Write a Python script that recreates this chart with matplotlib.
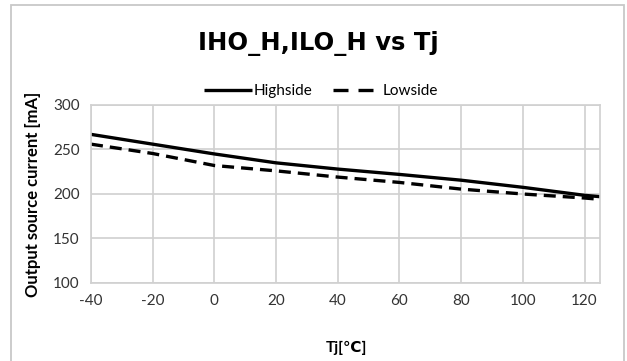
import matplotlib
matplotlib.use("Agg")
import matplotlib.pyplot as plt
from matplotlib.patches import Rectangle
from matplotlib.lines import Line2D

tj = [-40, -20, 0, 20, 40, 60, 80, 100, 120, 125]
highside = [267, 256, 245, 235, 228, 222, 215.5, 207.5, 198.5, 197]
lowside = [256, 245.5, 232, 226, 219, 213, 205.5, 200, 195.5, 194]
xticks = [-40, -20, 0, 20, 40, 60, 80, 100, 120]
yticks = [100, 150, 200, 250, 300]
series_names = ['Highside', 'Lowside']

plt.rcParams['font.family'] = ['Lato', 'DejaVu Sans']
plt.rcParams['axes.unicode_minus'] = False

fig = plt.figure(figsize=(6.27, 3.61), dpi=100)
ax = fig.add_axes([91/627, 1-283/361, (600-91)/627, (283-105)/361])

ax.plot(tj, highside, color='black', lw=2.4, solid_capstyle='butt', label=series_names[0])
ax.plot(tj, lowside, color='black', lw=2.4, linestyle=(0, (3.6, 2.1)), label=series_names[1])

ax.set_xlim(-40, 125)
ax.set_ylim(100, 300)
ax.set_xticks(xticks)
ax.set_yticks(yticks)
ax.grid(True, color='#d0d0d0', lw=1.2)
ax.set_axisbelow(True)
for s in ax.spines.values():
    s.set_color('#d0d0d0')
    s.set_linewidth(1.2)
ax.tick_params(length=0, labelsize=11, colors='#333333', pad=8)

ax.set_ylabel('Output source current [mA]', fontsize=12, fontweight='bold', labelpad=9)
fig.text(346/627, 1-348/361, 'Tj[℃]', ha='center', va='center', fontsize=11, fontweight='bold')

fig.text(318/627, 1-44/361, 'IHO_H,ILO_H vs Tj', ha='center', va='center', fontsize=17.5,
         fontweight='bold', family=['Liberation Sans Narrow', 'DejaVu Sans'])

handles = [Line2D([], [], color='black', lw=2.4, solid_capstyle='butt'),
           Line2D([], [], color='black', lw=2.4, linestyle=(0, (4.5, 3.0)))]
leg = fig.legend(handles, series_names, loc='center', bbox_to_anchor=(321/627, 1-91/361), ncol=2,
                 frameon=False, fontsize=11, handlelength=3.1, columnspacing=1.3, handletextpad=0.15)

fig.patches.append(Rectangle((11/627, -0.05), (624-11)/627, 1.05-5/361, transform=fig.transFigure,
                             fill=False, edgecolor='#c8c8c8', lw=1.3))

fig.savefig('out.png', dpi=100)
